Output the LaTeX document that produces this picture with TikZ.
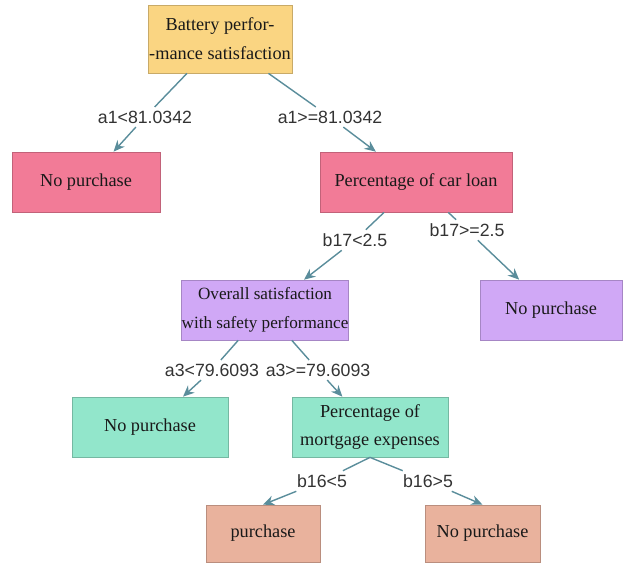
\documentclass[tikz,border=0pt]{standalone}
\usepackage{fontspec}
\setmainfont{Liberation Serif}
\setsansfont{Liberation Sans}
\usetikzlibrary{arrows.meta}
\definecolor{rootcol}{HTML}{FAD582}
\definecolor{pinkcol}{HTML}{F27B97}
\definecolor{lilaccol}{HTML}{D0A8F6}
\definecolor{mintcol}{HTML}{92E6CB}
\definecolor{peachcol}{HTML}{E9B29D}
\definecolor{linkcol}{HTML}{5A8D9B}
\begin{document}
\begin{tikzpicture}
  [x=0.025cm,y=-0.025cm,
   box/.style={rectangle,draw=#1!80!black,fill=#1,line width=0.5pt,inner sep=0pt,
     align=center,text=black!90,font=\fontsize{13}{20.5}\selectfont,minimum height=1.5cm},
   cond/.style={inner sep=2.5pt,text=black!80,font=\sffamily\fontsize{12.6}{14}\selectfont},
   link/.style={draw=linkcol,line width=1pt},
   arr/.style={link,-{Stealth[length=8pt,width=7pt]}}]
  \useasboundingbox (0,0) rectangle (624,562);

  \node[box=rootcol,minimum width=3.6cm,minimum height=1.7cm] (root) at (220,39) {Battery perfor-\\-mance satisfaction};
  \node[box=pinkcol,minimum width=3.7cm] (nopA) at (86,182) {No purchase};
  \node[box=pinkcol,minimum width=4.8cm] (carloan) at (416,182) {Percentage of car loan};
  \node[box=lilaccol,minimum width=4.15cm,font=\fontsize{12.2}{20.5}\selectfont] (overall) at (265,310) {Overall satisfaction\\with safety performance};
  \node[box=lilaccol,minimum width=3.55cm] (nopB) at (551,310) {No purchase};
  \node[box=mintcol,minimum width=3.9cm] (nopC) at (150,427) {No purchase};
  \node[box=mintcol,minimum width=3.9cm] (mortgage) at (370,427) {Percentage of\\mortgage expenses};
  \node[box=peachcol,minimum width=2.85cm,minimum height=1.425cm] (buy) at (263,533.5) {purchase};
  \node[box=peachcol,minimum width=2.875cm,minimum height=1.425cm] (nopD) at (482.5,533.5) {No purchase};

  \node[cond] (la1) at (145,117) {a1<81.0342};
  \node[cond] (ra1) at (330,117) {a1>=81.0342};
  \node[cond] (lb17) at (355,240) {b17<2.5};
  \node[cond] (rb17) at (467,230) {b17>=2.5};
  \node[cond] (la3) at (212,370) {a3<79.6093};
  \node[cond] (ra3) at (318,370) {a3>=79.6093};
  \node[cond] (lb16) at (322,481) {b16<5};
  \node[cond] (rb16) at (428,481) {b16>5};

  \foreach \from/\to in {root/la1,root/ra1,carloan/lb17,carloan/rb17,overall/la3,overall/ra3,mortgage.south/lb16,mortgage.south/rb16}
    \draw[link] (\from) -- (\to);
  \foreach \from/\to in {la1/nopA,ra1/carloan,lb17/overall,rb17/nopB,la3/nopC,ra3/mortgage,lb16/buy.north,rb16/nopD.north}
    \draw[arr] (\from) -- (\to);
\end{tikzpicture}
\end{document}
